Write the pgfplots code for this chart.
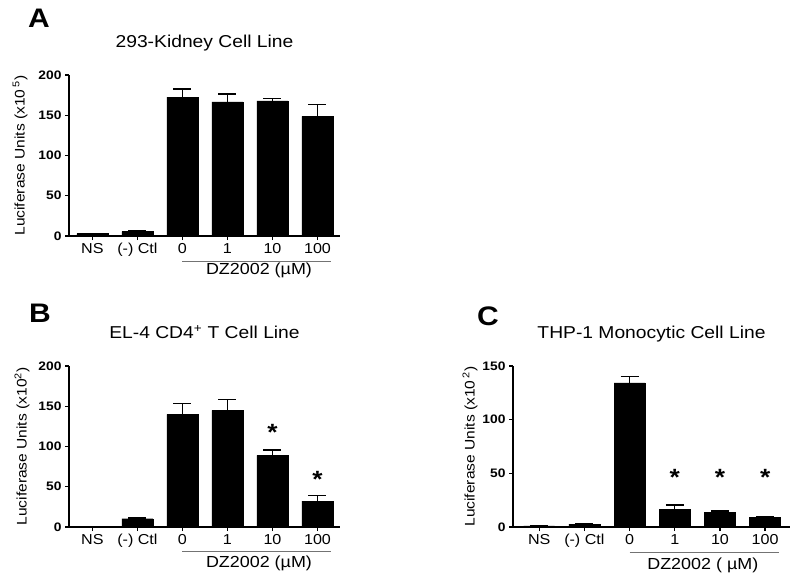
\documentclass[border=0pt]{standalone}
\usepackage{fontspec}
\setmainfont{Liberation Sans}[FakeStretch=1.12]
\usepackage{pgfplots}
\pgfplotsset{compat=1.18}
\usepackage{pgfplotstable}

% x = category index (NS, (-) Ctl, 0, 1, 10, 100), y = mean, e = upper error
\pgfplotstableread{
x y e
0 3.0 0.4
1 5.5 0.5
2 172.5 10.0
3 166.5 10.0
4 168.0 2.6
5 148.6 15.0
}\dataA
\pgfplotstableread{
x y e
0 0.3 0.2
1 10.3 0.8
2 140.0 13.7
3 145.0 13.7
4 89.0 6.5
5 32.0 7.5
}\dataB
\pgfplotstableread{
x y e
0 1.0 0.2
1 2.8 0.3
2 134.2 6.2
3 16.4 4.0
4 13.6 1.2
5 8.7 0.9
}\dataC

\pgfplotsset{
  cellpanel/.style={
    scale only axis, width=271pt, height=161pt,
    axis lines=left, axis line style={-, line width=1.4pt},
    xmin=-0.52, xmax=5.5, ymin=0,
    xtick={0,...,5}, xticklabels={NS,(-) Ctl,0,1,10,100},
    tick align=outside, major tick length=4pt,
    tick style={line width=1.4pt, black},
    xticklabel style={font=\fontsize{14.4}{16}\selectfont},
    yticklabel style={font=\bfseries\fontsize{12.3}{14}\selectfont},
    /pgf/number format/assume math mode=true,
    every axis y label/.style={at={([xshift=#1]axis description cs:0,0.5)},
      rotate=90, anchor=center, font=\fontsize{13.9}{16}\selectfont},
    title style={font=\fontsize{17.2}{19}\selectfont, at={(axis description cs:0.5,1)},
      anchor=center, yshift=26pt},
    clip=false,
  },
  bars/.style={ybar, bar width=31pt, bar shift=0pt, fill=black, draw=black,
    error bars/y dir=plus, error bars/y explicit,
    error bars/error bar style={line width=1.4pt, black},
    error bars/error mark options={rotate=90, mark size=9pt, line width=1.4pt, black}},
  stars/.style={only marks, mark=text, text mark as node=true,
    text mark={\bfseries\fontsize{23.5}{24}\selectfont *},
    text mark style={inner sep=0pt, yshift=-4.8pt}},
}

\begin{document}
\begin{tikzpicture}
\path[use as bounding box] (0,0) rectangle (794pt,-580pt);

\node[font=\bfseries\fontsize{26.8}{27}\selectfont] at (39pt,-18pt) {A};
\node[font=\bfseries\fontsize{26.8}{27}\selectfont] at (40pt,-313pt) {B};
\node[font=\bfseries\fontsize{26.8}{27}\selectfont] at (488pt,-316pt) {C};

% panel A
\begin{axis}[cellpanel=-49pt, at={(69pt,-236pt)}, anchor=south west,
    ymax=200, ytick={0,50,...,200},
    title={293-Kidney Cell Line},
    ylabel={Luciferase Units (x10\,\textsuperscript{5})}]
\addplot[bars] table[x=x, y=y, y error=e] {\dataA};
\draw[black!55, line width=1pt] ([yshift=-25pt]axis cs:2,0) -- ([yshift=-25pt]axis cs:5.3,0);
\node[font=\fontsize{16}{18}\selectfont] at ([yshift=-34pt]axis cs:3.7,0) {DZ2002 (µM)};
\end{axis}

% panel B
\begin{axis}[cellpanel=-47pt, at={(69pt,-527pt)}, anchor=south west,
    ymax=200, ytick={0,50,...,200},
    title={EL-4 CD4\textsuperscript{+} T Cell Line},
    title style={yshift=2pt},
    ylabel={Luciferase Units (x10\textsuperscript{2})}]
\addplot[bars] table[x=x, y=y, y error=e] {\dataB};
\addplot[stars] coordinates {(4,123) (5,64.6)};
\draw[black!55, line width=1pt] ([yshift=-24pt]axis cs:2,0) -- ([yshift=-24pt]axis cs:5.3,0);
\node[font=\fontsize{16}{18}\selectfont] at ([yshift=-36pt]axis cs:3.7,0) {DZ2002 (µM)};
\end{axis}

% panel C
\begin{axis}[cellpanel=-43pt, at={(513pt,-527pt)}, anchor=south west,
    width=277pt, xmin=-0.58, xmax=5.55,
    ymax=150, ytick={0,50,...,150},
    title={THP-1 Monocytic Cell Line},
    ylabel={Luciferase Units (x10\,\textsuperscript{2})}]
\addplot[bars] table[x=x, y=y, y error=e] {\dataC};
\addplot[stars] coordinates {(3,51) (4,51) (5,51)};
\draw[black!55, line width=1pt] ([yshift=-25pt]axis cs:2,0) -- ([yshift=-25pt]axis cs:5.3,0);
\node[font=\fontsize{16}{18}\selectfont] at ([yshift=-38pt]axis cs:3.62,0) {DZ2002 ( µM)};
\end{axis}
\end{tikzpicture}
\end{document}
